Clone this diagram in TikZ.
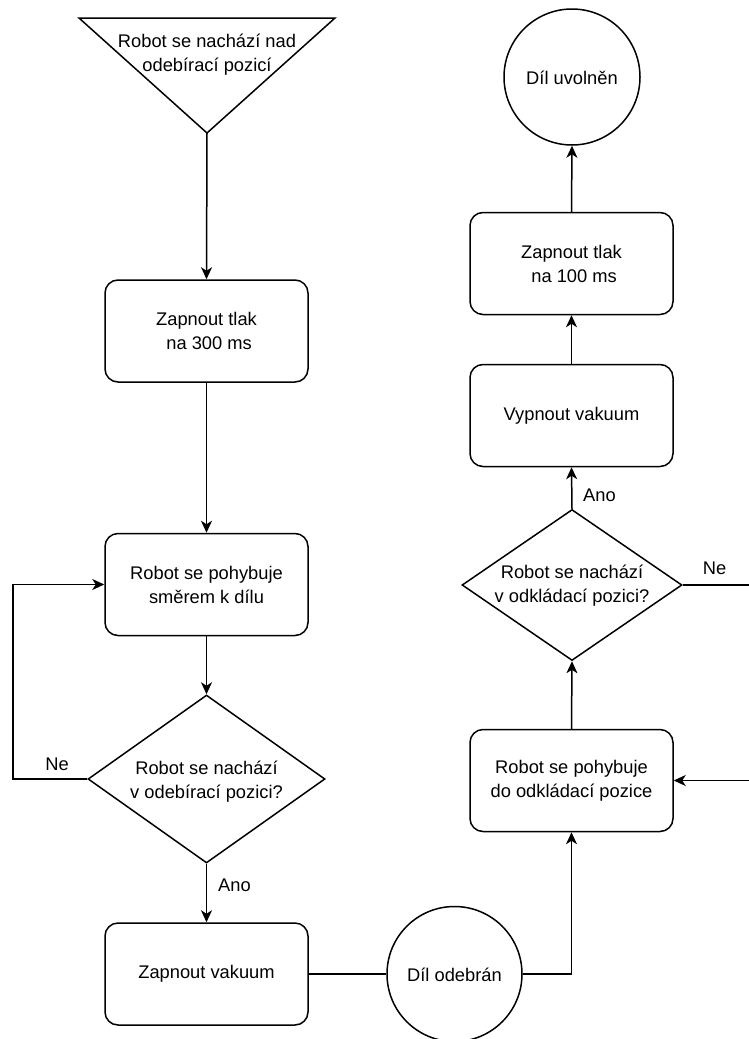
\documentclass[tikz,border=0pt]{standalone}
\usepackage{fontspec}
\setmainfont{Liberation Sans}
\usetikzlibrary{arrows.meta,shapes.geometric,calc}
\begin{document}
\begin{tikzpicture}[x=1pt,y=-1pt,
  every node/.style={font=\fontsize{18.3}{24}\selectfont, text=black},
  proc/.style={draw, line width=1.5pt, rounded corners=13pt, minimum width=203pt, minimum height=102pt, inner sep=0pt, align=center},
  dec/.style={draw, line width=1.5pt, diamond, inner sep=0pt, align=center},
  term/.style={draw, line width=1.5pt, circle, inner sep=0pt, align=center},
  conn/.style={line width=1.5pt},
  arr/.style={line width=1.5pt, -{Stealth[length=12pt,width=11pt,inset=3.5pt]}},
  lbl/.style={inner sep=0pt}
]
\useasboundingbox (0,0) rectangle (749,1039);
\clip (0,0) rectangle (749,1039);

% start triangle
\draw[conn, line join=miter] (79,18) -- (335,18) -- (207,133) -- cycle;
\coordinate (apex) at (207,133);
\node[lbl, align=center] (starttext) at (207,55) {Robot se nachází nad\\odebírací pozicí};

% left column
\node[proc] (b1) at (206.5,331) {Zapnout tlak\\\hspace*{0.28em}na 300 ms};
\node[proc] (b2) at (206.5,584.5) {Robot se pohybuje\\směrem k dílu};
\node[dec, minimum width=237pt, minimum height=168pt] (d1) at (206.5,779) {};
\node[lbl, align=center] (d1t) at (206.5,781.5) {Robot se nachází\\v odebírací pozici?};
\node[proc] (b3) at (206.5,974) {Zapnout vakuum};
\node[term, minimum size=135pt] (c1) at (454.5,974) {};
\node[lbl] (c1t) at (454.5,975) {Díl odebrán};

% right column
\node[proc] (b4) at (571.5,780.5) {Robot se pohybuje\\do odkládací pozice};
\node[dec, minimum width=220pt, minimum height=151pt] (d2) at (572,585) {};
\node[lbl, align=center] (d2t) at (572,585.5) {Robot se nachází\\v odkládací pozici?};
\node[proc] (b5) at (571.5,415.5) {Vypnout vakuum};
\node[proc] (b6) at (571.5,263.5) {Zapnout tlak\\\hspace*{0.28em}na 100 ms};
\node[term, minimum size=136pt] (c2) at (572,77) {};
\node[lbl] (c2t) at (572,78) {Díl uvolněn};

% connectors
\draw[arr] (apex) -- (b1.north);
\draw[arr] (b1.south) -- (b2.north);
\draw[arr] (b2.south) -- (d1.north);
\coordinate (lp1) at (13,779);
\coordinate (lp2) at (13,584.5);
\draw[arr] (d1.west) -- (lp1) -- (lp2) -- (b2.west);
\node[lbl] (ne1) at (57,764) {Ne};
\draw[arr] (d1.south) -- (b3.north);
\node[lbl, anchor=west] (ano1) at (218,885) {Ano};
\draw[conn] (b3.east) -- (c1.west);
\draw[arr] (c1.east) -| (b4.south);
\draw[arr] (b4.north) -- (d2.south);
\draw[arr] (d2.north) -- (b5.south);
\node[lbl, anchor=west] (ano2) at (583,495) {Ano};
\draw[arr] (b5.north) -- (b6.south);
\draw[arr] (b6.north) -- (c2.south);
\coordinate (rp1) at (760,585);
\coordinate (rp2) at (760,780.5);
\draw[arr] (d2.east) -- (rp1) -- (rp2) -- (b4.east);
\node[lbl] (ne2) at (714.5,568) {Ne};
\end{tikzpicture}
\end{document}
